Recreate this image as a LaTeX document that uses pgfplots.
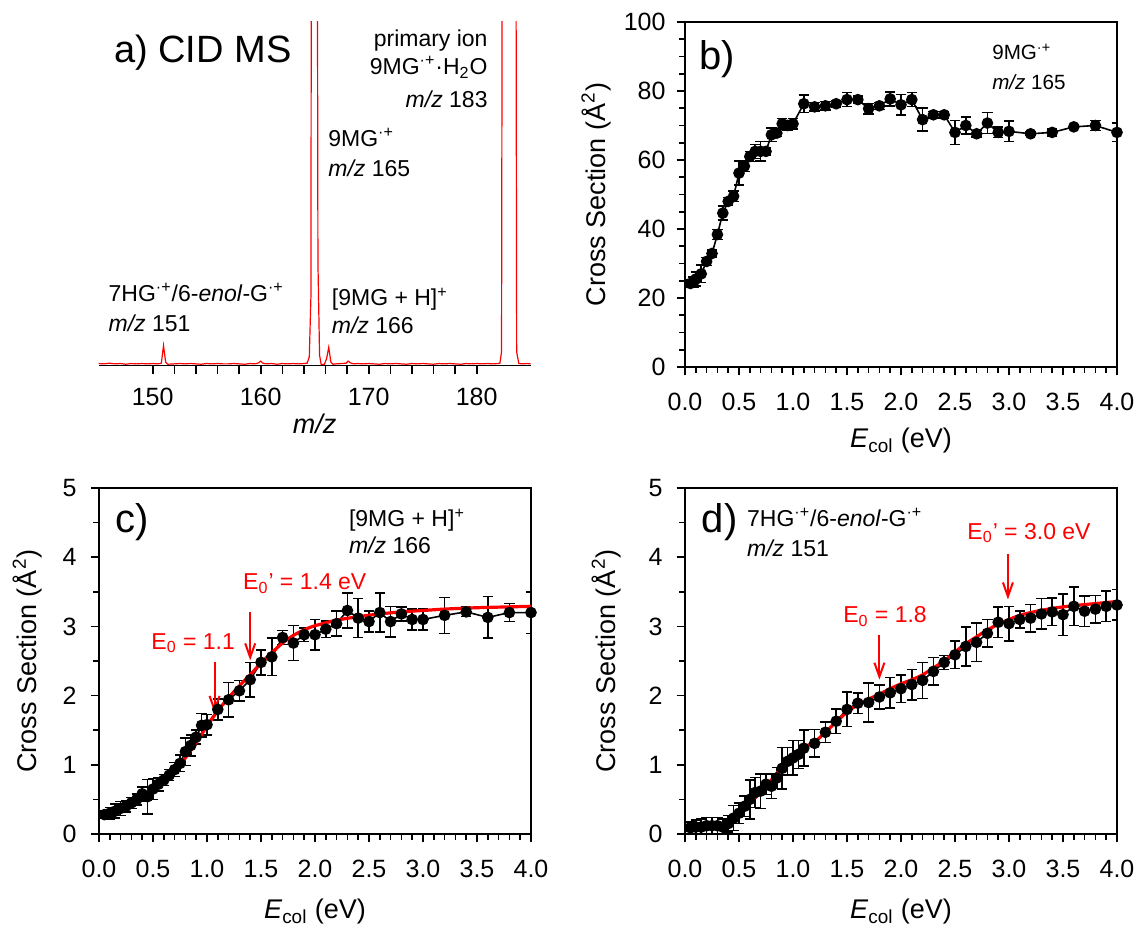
\documentclass[border=0pt]{standalone}
\usepackage{fontspec}
\setmainfont{Liberation Sans}
\usepackage{pgfplots}
\pgfplotsset{compat=1.18}
\usepackage{pgfplotstable}
\usetikzlibrary{arrows.meta}

\pgfplotstableread{
x y e
0.05 24.2 1.0
0.08 24.6 1.5
0.10 25.5 2.0
0.15 27.0 2.5
0.20 30.6 1.2
0.25 32.9 1.0
0.30 38.4 1.5
0.35 44.6 2.0
0.40 48.0 1.2
0.45 49.5 1.5
0.50 56.2 3.5
0.55 58.2 1.5
0.60 61.0 1.5
0.65 62.5 2.0
0.70 62.5 2.8
0.75 62.5 1.0
0.80 67.3 2.0
0.85 67.8 1.0
0.90 70.5 1.5
0.95 70.0 1.5
1.00 70.5 1.5
1.10 76.3 2.5
1.20 75.4 1.2
1.30 75.7 1.2
1.40 76.3 1.0
1.50 77.5 2.0
1.60 77.5 1.0
1.70 74.9 1.5
1.80 75.7 1.0
1.90 77.7 2.0
2.00 76.0 3.0
2.10 77.5 2.0
2.20 71.7 3.3
2.30 73.1 1.0
2.40 73.1 1.0
2.50 68.0 3.5
2.60 70.0 2.5
2.70 67.6 1.0
2.80 70.7 3.0
2.90 68.0 1.5
3.00 68.3 3.0
3.20 67.6 0.5
3.40 68.0 1.0
3.60 69.6 0.5
3.80 70.0 1.5
4.00 68.0 2.7
}\tabB

\pgfplotstableread{
x y e
0.05 0.28 0.05
0.10 0.30 0.08
0.15 0.33 0.10
0.20 0.37 0.10
0.25 0.40 0.08
0.30 0.45 0.08
0.35 0.50 0.08
0.40 0.58 0.10
0.45 0.54 0.25
0.50 0.65 0.15
0.55 0.72 0.10
0.60 0.78 0.08
0.65 0.85 0.08
0.70 0.93 0.10
0.75 1.02 0.12
0.80 1.19 0.20
0.85 1.28 0.15
0.90 1.40 0.10
0.95 1.57 0.17
1.00 1.58 0.15
1.10 1.80 0.15
1.20 1.94 0.25
1.30 2.07 0.15
1.40 2.23 0.25
1.50 2.48 0.18
1.60 2.56 0.27
1.70 2.84 0.10
1.80 2.76 0.25
1.90 2.88 0.10
2.00 2.88 0.22
2.10 2.96 0.12
2.20 3.04 0.18
2.30 3.23 0.25
2.40 3.12 0.28
2.50 3.07 0.15
2.60 3.20 0.28
2.70 3.07 0.22
2.80 3.18 0.10
2.90 3.10 0.15
3.00 3.10 0.15
3.20 3.16 0.26
3.40 3.21 0.07
3.60 3.13 0.30
3.80 3.20 0.13
4.00 3.20 0.30
}\tabC

\pgfplotstableread{
x y
0.05 0.29
0.10 0.32
0.20 0.38
0.30 0.45
0.40 0.55
0.50 0.65
0.60 0.76
0.70 0.90
0.80 1.10
0.90 1.32
1.00 1.56
1.10 1.78
1.20 1.97
1.30 2.14
1.40 2.30
1.50 2.47
1.60 2.62
1.70 2.76
1.80 2.87
1.90 2.95
2.00 3.01
2.20 3.09
2.40 3.14
2.60 3.18
2.80 3.21
3.00 3.23
3.20 3.25
3.50 3.27
4.00 3.29
}\fitC

\pgfplotstableread{
x y e
0.05 0.09 0.08
0.10 0.10 0.10
0.15 0.10 0.12
0.20 0.12 0.12
0.25 0.12 0.12
0.30 0.12 0.12
0.35 0.10 0.12
0.40 0.15 0.12
0.45 0.23 0.18
0.50 0.30 0.15
0.55 0.40 0.15
0.60 0.50 0.28
0.65 0.60 0.22
0.70 0.62 0.25
0.75 0.72 0.15
0.80 0.69 0.18
0.85 0.81 0.15
0.90 0.95 0.30
0.95 1.05 0.20
1.00 1.10 0.25
1.05 1.15 0.20
1.10 1.24 0.26
1.20 1.31 0.20
1.30 1.47 0.15
1.40 1.63 0.18
1.50 1.80 0.25
1.60 1.89 0.15
1.70 1.90 0.28
1.80 1.98 0.17
1.90 2.04 0.22
2.00 2.10 0.20
2.10 2.16 0.22
2.20 2.22 0.26
2.30 2.35 0.20
2.40 2.48 0.10
2.50 2.59 0.20
2.60 2.71 0.28
2.70 2.77 0.28
2.80 2.90 0.20
2.90 3.06 0.22
3.00 3.04 0.25
3.10 3.10 0.12
3.20 3.12 0.20
3.30 3.18 0.22
3.40 3.21 0.20
3.50 3.17 0.30
3.60 3.29 0.28
3.70 3.22 0.22
3.80 3.25 0.20
3.90 3.29 0.22
4.00 3.31 0.22
}\tabD

\pgfplotstableread{
x y
0.10 0.05
0.20 0.07
0.30 0.09
0.35 0.10
0.40 0.18
0.50 0.30
0.60 0.45
0.70 0.60
0.80 0.78
0.90 0.97
1.00 1.12
1.10 1.25
1.20 1.33
1.30 1.47
1.40 1.62
1.50 1.76
1.60 1.87
1.70 1.95
1.80 2.02
1.90 2.10
2.00 2.17
2.10 2.23
2.20 2.30
2.30 2.40
2.40 2.50
2.50 2.63
2.60 2.75
2.70 2.85
2.80 2.95
2.90 3.03
3.00 3.10
3.10 3.16
3.20 3.20
3.40 3.26
3.60 3.30
3.80 3.33
4.00 3.36
}\fitD

\pgfplotstableread{
x y
145.0 0.6
145.5 0.5
146.0 0.7
146.5 0.5
147.0 0.6
147.5 0.4
148.0 0.6
148.5 0.5
149.0 0.6
149.5 0.5
150.0 0.6
150.5 0.5
150.8 0.7
151.0 5.8
151.2 1.0
151.4 0.4
152.0 0.5
152.5 0.6
153.0 0.5
153.5 0.6
154.0 0.5
154.5 0.4
155.0 0.6
155.5 0.5
156.0 0.6
156.5 0.5
157.0 0.5
157.5 0.6
158.0 0.5
158.5 0.4
159.0 0.6
159.5 0.5
159.8 0.8
160.0 1.3
160.2 0.7
160.5 0.5
161.0 0.6
161.5 0.4
162.0 0.6
162.5 0.5
163.0 0.6
163.5 0.5
164.0 0.6
164.3 0.7
164.5 2.5
164.65 20
164.75 300
165.15 300
165.3 30
165.45 3
165.6 0.3
165.9 0.4
166.1 2.0
166.3 5.3
166.5 1.0
166.7 0.4
167.0 0.5
167.5 0.6
167.9 0.7
168.1 1.3
168.3 0.8
168.6 0.5
169.0 0.6
169.5 0.5
170.0 0.6
170.5 0.5
171.0 0.4
171.5 0.6
172.0 0.5
172.5 0.6
173.0 0.5
173.5 0.4
174.0 0.6
174.5 0.5
175.0 0.6
175.5 0.5
176.0 0.4
176.5 0.6
177.0 0.5
177.5 0.6
178.0 0.5
178.5 0.4
179.0 0.6
179.5 0.5
180.0 0.6
180.5 0.5
181.0 0.6
181.5 0.5
182.0 0.6
182.15 0.7
182.3 4
182.45 300
183.55 300
183.7 4
183.9 0.6
184.3 0.5
184.6 0.6
185.0 0.5
}\spec

\newcommand\ann{\fontsize{11.5}{13.5}\selectfont}
\newcommand\panellab{\fontsize{20}{22}\selectfont}
\newcommand\tickfont{\fontsize{12.5}{14}\selectfont}
\newcommand\labfont{\fontsize{13.5}{16}\selectfont}

\pgfplotsset{
  common/.style={
    scale only axis,
    anchor=south west,
    width=216pt,
    tick align=outside,
    tick pos=left,
    axis line style={line width=0.9pt},
    every tick/.style={black, line width=0.8pt},
    major tick length=4.2pt,
    minor tick length=3pt,
    /pgf/number format/assume math mode=true,
    every tick label/.append style={font=\tickfont},
    every axis label/.append style={font=\labfont},
  },
  ecol/.style={
    xmin=0, xmax=4,
    xtick={0,0.5,1,1.5,2,2.5,3,3.5,4},
    minor x tick num=4,
    xticklabel style={yshift=-5.5pt, /pgf/number format/.cd, fixed, fixed zerofill, precision=1},
    yticklabel style={xshift=-3.5pt},
    xlabel={\textit{E}\textsubscript{col} (eV)},
    ylabel={Cross Section (Å\textsuperscript{2})},
  },
  datplot/.style={
    black, line width=0.8pt, mark=*, mark size=2.5pt,
    mark options={fill=black, solid},
    error bars/.cd, y dir=both, y explicit,
    error bar style={line width=0.75pt, black},
    error mark options={rotate=90, mark size=2.6pt, line width=0.75pt, black},
  },
  fitplot/.style={red, line width=1.6pt, no marks, smooth},
}

\begin{document}
\begin{tikzpicture}
\useasboundingbox (0,0) rectangle (570pt,466pt);

% ---------- panel a ----------
\begin{axis}[common,
  at={(49.35pt,283.2pt)}, height=172pt,
  xmin=145, xmax=185, ymin=0, ymax=100,
  axis x line*=bottom, axis y line=none,
  ytick=\empty,
  xtick={150,160,170,180}, minor x tick num=4,
  minor tick length=4.2pt,
  xticklabel style={yshift=-3.5pt},
  xlabel={\textit{m/z}},
  xlabel style={at={(axis description cs:0.5,-0.168)}, anchor=center},
]
\addplot[red, line width=0.6pt, no marks] table[x=x,y=y] {\spec};
\node[anchor=base west, font=\fontsize{19}{21}\selectfont] at (axis cs:145.77,88.1) {a) CID MS};
\node[anchor=base east, font=\ann] at (axis cs:181.66,92.75) {primary ion};
\node[anchor=base east, font=\ann] at (axis cs:181.66,84.6) {9MG\textsuperscript{·+}·H\textsubscript{2}O};
\node[anchor=base east, font=\ann] at (axis cs:181.66,75.1) {\textit{m/z} 183};
\node[anchor=base west, font=\ann] at (axis cs:165.61,63.8) {9MG\textsuperscript{·+}};
\node[anchor=base west, font=\ann] at (axis cs:165.61,55.1) {\textit{m/z} 165};
\node[anchor=base west, font=\ann] at (axis cs:145.27,18.6) {7HG\textsuperscript{·+}/6-\textit{enol}-G\textsuperscript{·+}};
\node[anchor=base west, font=\ann] at (axis cs:145.27,9.9) {\textit{m/z} 151};
\node[anchor=base west, font=\ann] at (axis cs:165.94,17.4) {[9MG + H]\textsuperscript{+}};
\node[anchor=base west, font=\ann] at (axis cs:165.94,9.3) {\textit{m/z} 166};
\end{axis}

% ---------- panel b ----------
\begin{axis}[common, ecol,
  at={(342.5pt,282.5pt)}, height=172.5pt,
  ymin=0, ymax=100, ytick={0,20,40,60,80,100}, minor y tick num=3,
  yticklabel style={xshift=1.5pt},
  xlabel style={at={(axis description cs:0.5,-0.214)}, anchor=center},
  ylabel style={at={(axis description cs:-0.206,0.5)}, anchor=center},
]
\addplot[datplot] table[x=x,y=y,y error=e] {\tabB};
\node[anchor=base west, font=\panellab] at (axis cs:0.07,86.1) {b)};
\node[anchor=base west, font=\fontsize{10.3}{12}\selectfont] at (axis cs:2.78,89.0) {9MG\textsuperscript{·+}};
\node[anchor=base west, font=\fontsize{10.3}{12}\selectfont] at (axis cs:2.78,80.3) {\textit{m/z} 165};
\end{axis}

% ---------- panel c ----------
\begin{axis}[common, ecol,
  at={(49.5pt,49pt)}, height=173pt,
  ymin=0, ymax=5, ytick={0,1,2,3,4,5}, minor y tick num=1,
  xlabel style={at={(axis description cs:0.5,-0.225)}, anchor=center},
  ylabel style={at={(axis description cs:-0.166,0.5)}, anchor=center},
]
\addplot[datplot] table[x=x,y=y,y error=e] {\tabC};
\addplot[fitplot] table[x=x,y=y] {\fitC};
\draw[red, line width=1pt, -{Straight Barb[length=7pt,width=5pt]}] (axis cs:1.07,2.48) -- (axis cs:1.07,1.75);
\draw[red, line width=1pt, -{Straight Barb[length=7pt,width=5pt]}] (axis cs:1.4,3.21) -- (axis cs:1.4,2.51);
\node[anchor=base west, font=\ann, red] at (axis cs:0.42,2.67) {E\textsubscript{0} = 1.1};
\node[anchor=base west, font=\ann, red] at (axis cs:1.27,3.53) {E\textsubscript{0}' = 1.4 eV};
\node[anchor=base west, font=\panellab] at (axis cs:0.09,4.35) {c)};
\node[anchor=base west, font=\ann] at (axis cs:2.25,4.44) {[9MG + H]\textsuperscript{+}};
\node[anchor=base west, font=\ann] at (axis cs:2.25,4.06) {\textit{m/z} 166};
\end{axis}

% ---------- panel d ----------
\begin{axis}[common, ecol,
  at={(342.5pt,49pt)}, height=173pt,
  ymin=0, ymax=5, ytick={0,1,2,3,4,5}, minor y tick num=1,
  xlabel style={at={(axis description cs:0.5,-0.225)}, anchor=center},
  ylabel style={at={(axis description cs:-0.182,0.5)}, anchor=center},
]
\addplot[datplot] table[x=x,y=y,y error=e] {\tabD};
\addplot[fitplot] table[x=x,y=y] {\fitD};
\draw[red, line width=1pt, -{Straight Barb[length=7pt,width=5pt]}] (axis cs:1.8,2.88) -- (axis cs:1.8,2.23);
\draw[red, line width=1pt, -{Straight Barb[length=7pt,width=5pt]}] (axis cs:2.99,4.04) -- (axis cs:2.99,3.39);
\node[anchor=base west, font=\ann, red] at (axis cs:1.40,3.05) {E\textsubscript{0} = 1.8};
\node[anchor=base west, font=\ann, red] at (axis cs:2.55,4.26) {E\textsubscript{0}' = 3.0 eV};
\node[anchor=base west, font=\panellab] at (axis cs:0.09,4.35) {d)};
\node[anchor=base west, font=\ann] at (axis cs:0.51,4.45) {7HG\textsuperscript{·+}/6-\textit{enol}-G\textsuperscript{·+}};
\node[anchor=base west, font=\ann] at (axis cs:0.51,4.01) {\textit{m/z} 151};
\end{axis}
\end{tikzpicture}
\end{document}
